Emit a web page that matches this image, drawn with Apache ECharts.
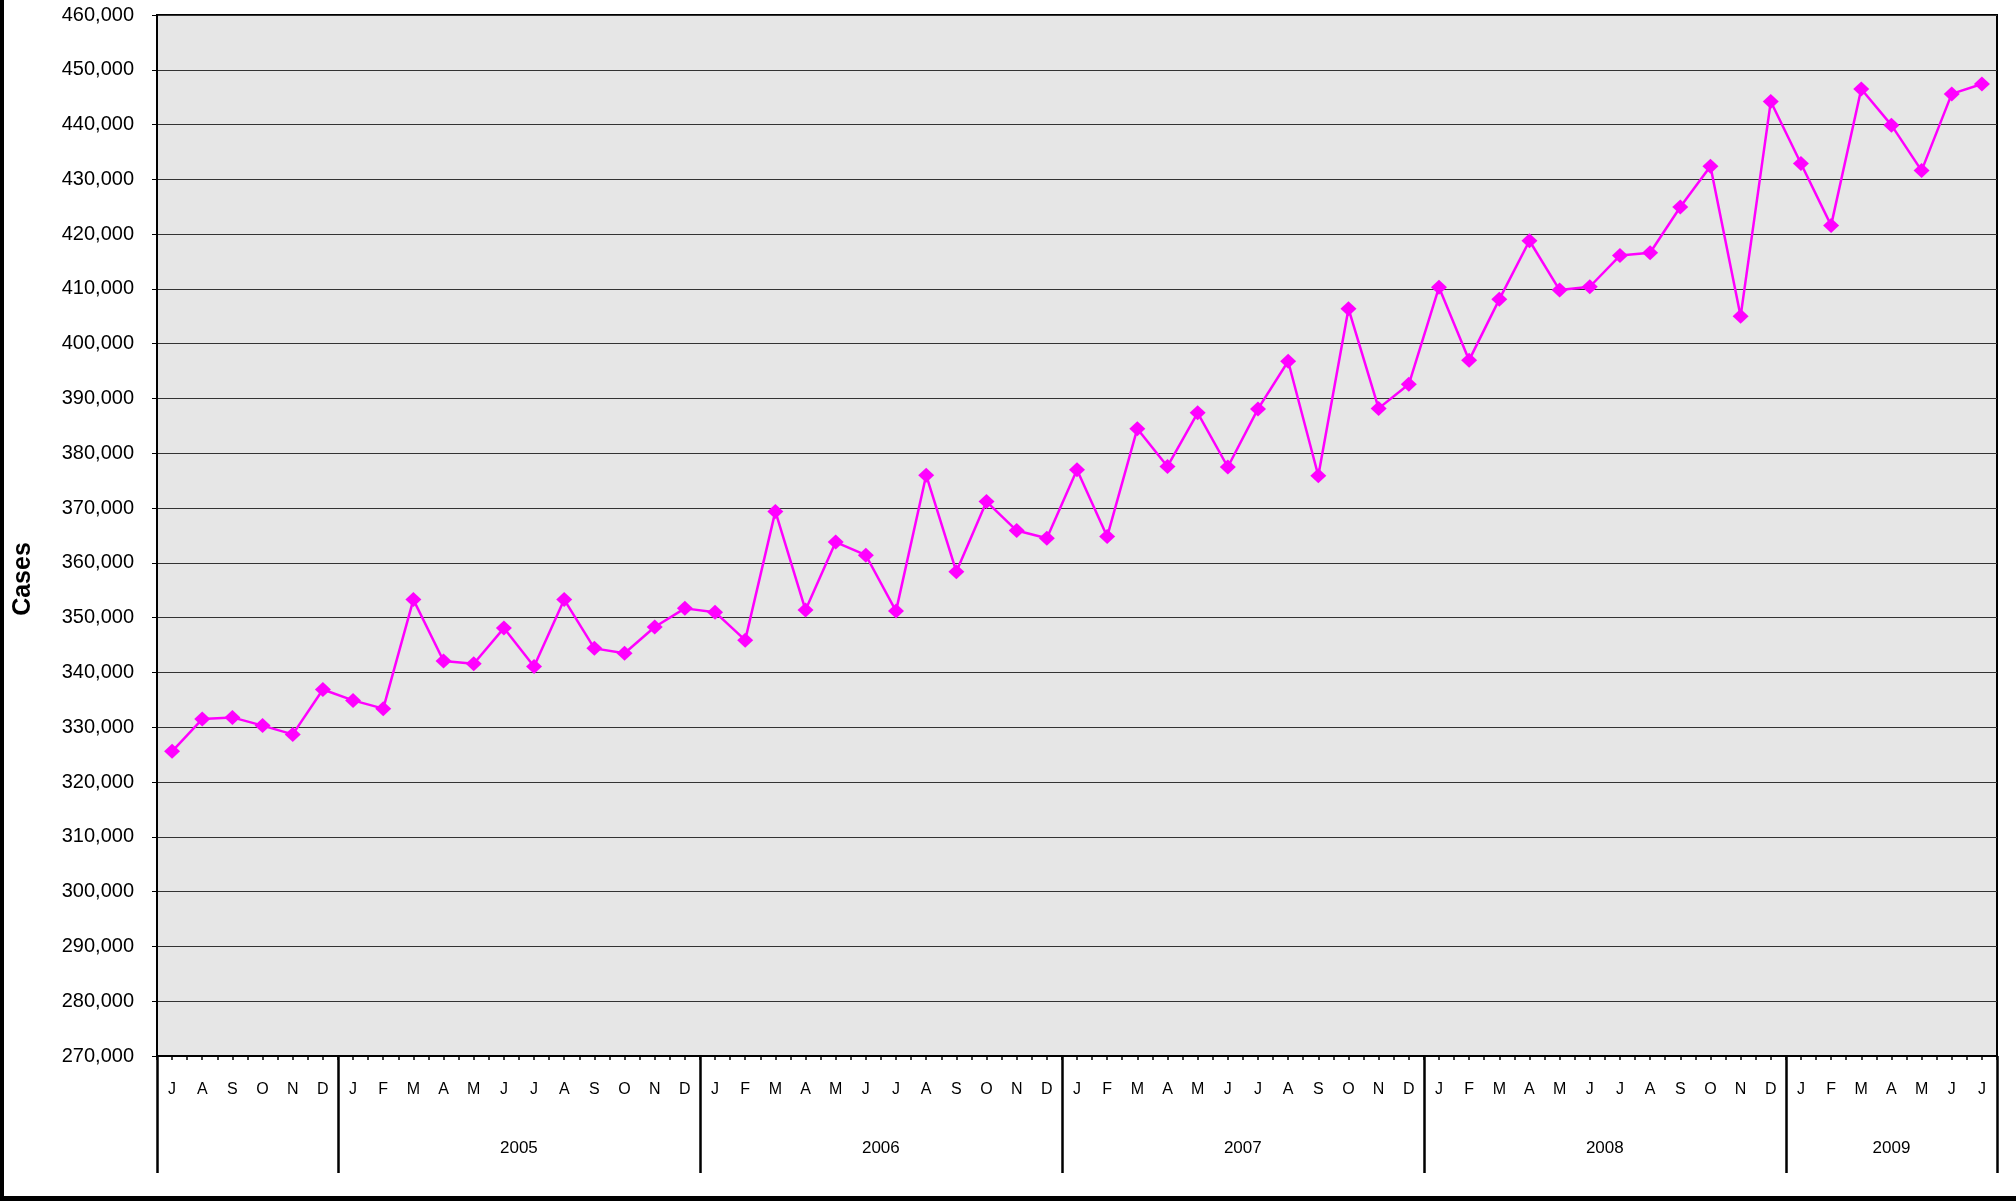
<!DOCTYPE html>
<html>
<head>
<meta charset="utf-8">
<script src="https://cdn.jsdelivr.net/npm/echarts@6/dist/echarts.min.js"></script>
<style>
html,body{margin:0;padding:0;background:#fff;}
#chart{width:2016px;height:1201px;}
</style>
</head>
<body>
<div id="chart"></div>
<script>
// Month initials, July 2004 .. July 2009
const months = [
  'J','A','S','O','N','D',
  'J','F','M','A','M','J','J','A','S','O','N','D',
  'J','F','M','A','M','J','J','A','S','O','N','D',
  'J','F','M','A','M','J','J','A','S','O','N','D',
  'J','F','M','A','M','J','J','A','S','O','N','D',
  'J','F','M','A','M','J','J'
];
// Cases per month
const cases = [
  325600, 331500, 331800, 330300, 328700, 336900,
  334900, 333400, 353300, 342100, 341600, 348100, 341100, 353300, 344400, 343500, 348300, 351700,
  351000, 345900, 369400, 351400, 363800, 361400, 351200, 376000, 358400, 371200, 365900, 364500,
  377000, 364800, 384500, 377600, 387400, 377500, 388100, 396800, 375900, 406400, 388200, 392600,
  410300, 397000, 408100, 418800, 409800, 410400, 416100, 416600, 424950, 432400, 405000, 444200,
  432900, 421600, 446500, 439900, 431600, 445600, 447400
];
// Year groups: label and the index of the first month of each group
const yearNames = ['', '2005', '2006', '2007', '2008', '2009'];
const yearStarts = [0, 6, 18, 30, 42, 54];
const yMin = 270000, yMax = 460000, yStep = 10000;

const n = months.length;
const yearEnds = yearStarts.slice(1).concat([n]);
// label position per year: index + whether to shift half a band to the right
const yearLabelAt = {};
yearStarts.forEach(function (s, k) {
  if (!yearNames[k]) return;
  const c = (s + yearEnds[k]) / 2;
  if (Number.isInteger(c)) yearLabelAt[c - 1] = { name: yearNames[k], shift: true };
  else yearLabelAt[Math.floor(c)] = { name: yearNames[k], shift: false };
});

const chart = echarts.init(document.getElementById('chart'), null, { renderer: 'canvas' });
const FONT = 'Liberation Sans, Arial, sans-serif';

chart.setOption({
  backgroundColor: '#ffffff',
  animation: false,
  grid: {
    left: 157, right: 19, top: 15, bottom: 145,
    show: true, backgroundColor: '#e6e6e6', borderColor: '#000', borderWidth: 2,
    containLabel: false
  },
  xAxis: [
    {
      type: 'category', data: months, position: 'bottom', boundaryGap: true,
      axisLine: { show: true, lineStyle: { color: '#000', width: 2 } },
      axisTick: { show: true, interval: 0, alignWithLabel: false, length: 4, lineStyle: { color: '#000', width: 1.5 } },
      axisLabel: { show: true, interval: 0, fontFamily: FONT, fontSize: 16, color: '#000', margin: 26 },
      splitLine: { show: false }
    },
    {
      type: 'category', data: months, position: 'bottom', boundaryGap: true,
      axisLine: { show: false },
      axisTick: { show: true, interval: 0, alignWithLabel: true, length: 4, lineStyle: { color: '#000', width: 1.5 } },
      axisLabel: { show: false },
      splitLine: { show: false }
    },
    {
      type: 'category', data: months, position: 'bottom', boundaryGap: true,
      axisLine: { show: false },
      axisTick: {
        show: true, alignWithLabel: false, length: 117,
        interval: function (i) { return yearStarts.indexOf(i) >= 0; },
        lineStyle: { color: '#000', width: 2.5 }
      },
      axisLabel: {
        show: true, interval: 0, margin: 84, fontFamily: FONT, fontSize: 17, color: '#000',
        formatter: function (v, i) {
          const y = yearLabelAt[i];
          if (!y) return '';
          return y.shift ? '{s|' + y.name + '}' : '{c|' + y.name + '}';
        },
        rich: {
          s: { padding: [0, 0, 0, 30], fontFamily: FONT, fontSize: 17, color: '#000' },
          c: { fontFamily: FONT, fontSize: 17, color: '#000' }
        }
      },
      splitLine: { show: false }
    }
  ],
  yAxis: {
    type: 'value', min: yMin, max: yMax, interval: yStep,
    name: 'Cases', nameLocation: 'middle', nameRotate: 90, nameGap: 121,
    nameTextStyle: { fontFamily: FONT, fontSize: 25, fontWeight: 'bold', color: '#000', padding: [0, 87, 0, 0] },
    axisLine: { show: true, lineStyle: { color: '#000', width: 2 } },
    axisTick: { show: true, inside: false, length: 5, lineStyle: { color: '#000', width: 1 } },
    axisLabel: {
      fontFamily: FONT, fontSize: 20, color: '#000', margin: 23,
      formatter: function (v) { return v.toLocaleString('en-US'); }
    },
    splitLine: { show: true, lineStyle: { color: '#333', width: 1.2 } }
  },
  series: [{
    type: 'line', data: cases, xAxisIndex: 0,
    symbol: 'diamond', symbolSize: [16, 15], showAllSymbol: true,
    itemStyle: { color: '#ff00ff' },
    lineStyle: { color: '#ff00ff', width: 2.5 },
    z: 5
  }],
  graphic: [
    { type: 'rect', left: 0, top: 0, shape: { width: 4, height: 1201 }, style: { fill: '#000' }, silent: true },
    { type: 'rect', left: 0, top: 1196, shape: { width: 2016, height: 5 }, style: { fill: '#000' }, silent: true }
  ]
});
</script>
</body>
</html>
